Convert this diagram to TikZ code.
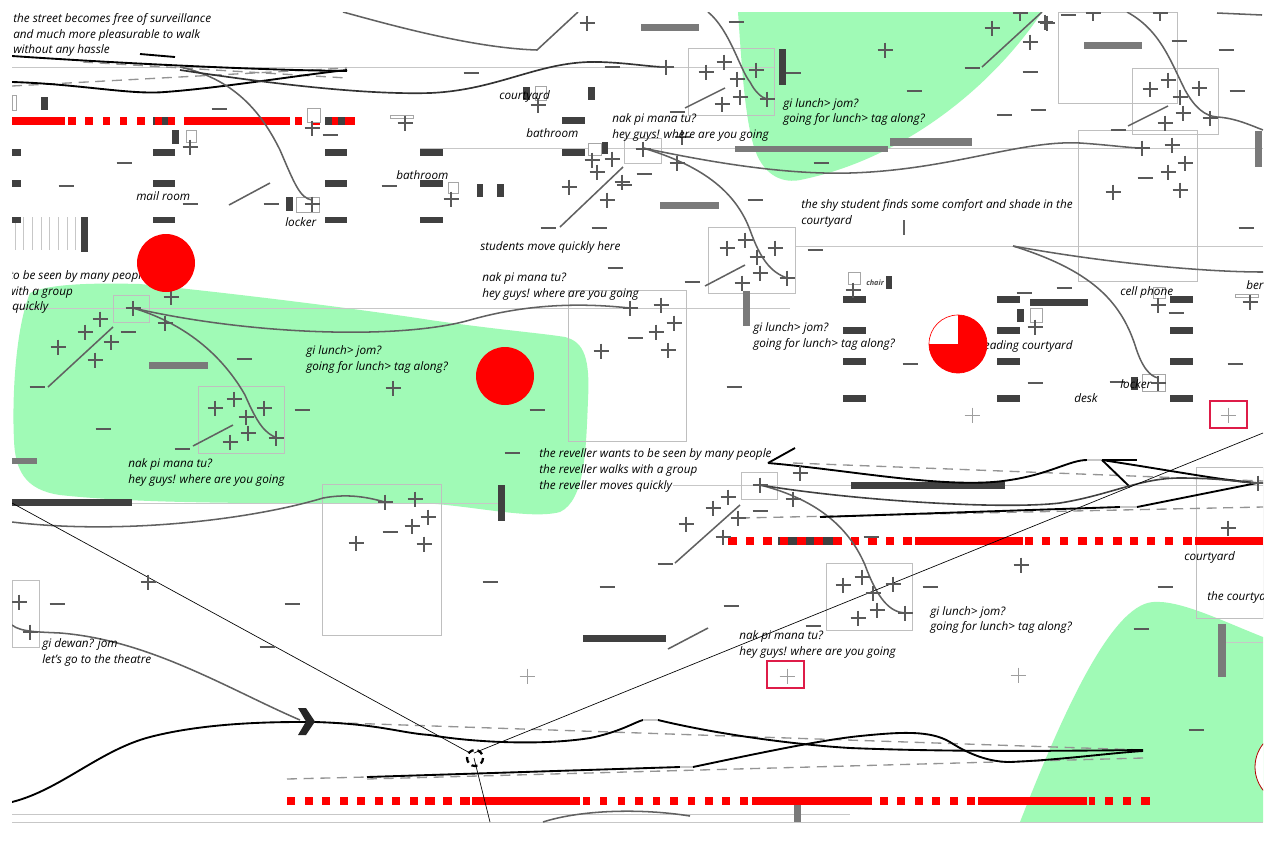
\documentclass[tikz,border=0pt]{standalone}
\usepackage{fontspec}
\setmainfont{Open Sans}
\definecolor{grn}{RGB}{160,250,182}
\definecolor{crim}{RGB}{222,28,72}
\begin{document}
\begin{tikzpicture}[x=0.75pt,y=-0.75pt,
  lb/.style={font=\fontsize{8.8}{10}\selectfont\itshape, inner sep=0pt, anchor=base west, text=black},
  crs/.style={draw=black!65, line width=1pt},
  lcrs/.style={draw=black!38, line width=0.75pt},
  pth/.style={draw=black!62, line width=1.15pt},
  blk/.style={draw=black, line width=1.4pt},
  gdash/.style={draw=black!42, line width=1pt, dash pattern=on 7.5pt off 5pt},
  hair/.style={draw=black!22, line width=0.5pt},
  gbox/.style={draw=black!25, line width=0.5pt},
  sbox/.style={draw=black!35, fill=white, line width=0.5pt},
  dbar/.style={fill=black!75},
  mbar/.style={fill=black!52},
  pl/.pic={\draw[crs] (-7.5,0) -- (7.5,0) (0,-7.5) -- (0,7.5);},
  lpl/.pic={\draw[lcrs] (-7.5,0) -- (7.5,0) (0,-7.5) -- (0,7.5);},
  mn/.pic={\draw[crs] (-7.5,0) -- (7.5,0);}
]
\useasboundingbox (0,0) rectangle (1275,844);
\fill[white] (0,0) rectangle (1275,844);
\begin{scope}
\clip (12,12) rectangle (1263,822);
% green zones
\fill[grn] (738,12) .. controls (742,70) and (745,120) .. (755,150) .. controls (765,178) and (785,183) .. (800,180) .. controls (900,160) and (990,90) .. (1042,12) -- cycle;
\fill[grn] (30,293) .. controls (50,283) and (100,283) .. (140,284) .. controls (250,295) and (380,312) .. (430,320) .. controls (500,330) and (540,333) .. (565,337) .. controls (585,342) and (590,360) .. (588,400) .. controls (586,450) and (585,500) .. (560,512) .. controls (530,520) and (470,505) .. (420,503) .. controls (300,503) and (150,505) .. (60,495) .. controls (25,490) and (15,470) .. (14,440) .. controls (12,400) and (15,330) .. (30,293) -- cycle;
\fill[grn] (1020,822) .. controls (1060,720) and (1110,605) .. (1153,602) .. controls (1180,600) and (1220,620) .. (1263,637) -- (1263,822) -- cycle;
% hairlines
\draw[hair] (12,67) -- (775,67);
\draw[hair] (420,148) -- (1263,148);
\draw[hair] (795,246) -- (1263,246);
\draw[hair] (12,308) -- (790,308);
\draw[hair] (12,503) -- (500,503);
\draw[hair] (673,485) -- (1263,485);
\draw[hair] (12,814) -- (850,814);
\draw[hair] (12,822) -- (1263,822);
\draw[hair] (1223,642) -- (1263,642);
\foreach \x in {15,23,32,41,49,58,67,75} \draw[hair] (\x,217) -- (\x,250);
% grey frames
\foreach \a/\b/\c/\d in {688/48/774/115, 1058/12/1177/103, 1132/68/1218/134, 1078/130/1197/281, 624/138/661/163, 708/227/795/293, 568/290/686/441, 113/295/149/322, 198/386/284/453, 322/484/441/635, 12/580/39/647, 741/472/777/499, 826/563/912/630, 1196/467/1263/618}
  \draw[gbox] (\a,\b) rectangle (\c,\d);
% dark bars
\foreach \a/\b/\c/\d in {41/97/48/110, 172/130/179/144, 12/149/21/156, 12/180/21/187, 12/217/21/223, 153/149/175/156, 153/180/175/187, 153/217/175/223, 325/149/347/156, 325/180/347/187, 325/217/347/223, 420/149/443/156, 420/180/443/187, 420/217/443/223, 562/117/585/124, 562/149/585/156, 523/87/530/100, 588/87/595/100, 477/184/483/197, 497/184/504/197, 602/142/608/154, 81/217/88/252, 286/197/293/211, 779/49/786/85, 12/499/132/506, 498/485/505/521, 583/635/666/642, 851/482/1005/489, 778/537/833/545, 153/117/175/125, 325/117/347/125, 1030/299/1088/306, 1017/309/1024/322, 886/276/892/289, 1131/377/1138/390}
  \fill[dbar] (\a,\b) rectangle (\c,\d);
\foreach \x in {843,997,1170} \foreach \y in {296,327,358,395} \fill[dbar] (\x,\y) rectangle (\x+23,\y+7);
% medium bars
\foreach \a/\b/\c/\d in {641/24/699/31, 735/146/888/152, 890/138/972/146, 660/202/719/209, 1084/42/1142/49, 1255/131/1262/167, 149/362/208/369, 12/458/37/464, 743/291/750/326, 1218/624/1226/677, 794/800/801/822}
  \fill[mbar] (\a,\b) rectangle (\c,\d);
% red dashed bands
\foreach \a/\b in {12/65, 68/76, 85/93, 103/110, 120/127, 137/145, 155/162, 168/175, 184/290, 295/302, 313/320, 332/338, 345/355}
  \fill[red] (\a,117) rectangle (\b,125);
\foreach \a/\b in {728/737, 746/754, 763/772, 780/788, 797/806, 814/823, 833/842, 851/859, 868/877, 886/894, 903/912, 915/1023, 1025/1033, 1042/1050, 1060/1068, 1078/1087, 1095/1103, 1113/1122, 1130/1138, 1147/1155, 1165/1173, 1183/1192, 1195/1263}
  \fill[red] (\a,537) rectangle (\b,545);
\foreach \a/\b in {287/295, 305/313, 322/330, 340/348, 357/365, 375/383, 392/400, 410/418, 425/435, 443/452, 460/470, 472/580, 583/590, 600/607, 618/625, 635/643, 653/660, 670/678, 688/695, 705/713, 722/730, 740/748, 752/872, 880/888, 897/905, 915/923, 932/940, 950/958, 967/975, 978/1087, 1089/1095, 1105/1113, 1123/1131, 1141/1150}
  \fill[red] (\a,797) rectangle (\b,805);
% small white boxes
\foreach \a/\b/\c/\d in {307/108/320/122, 186/130/196/142, 12/95/16/110, 448/182/458/193, 535/86/546/100, 588/143/601/155, 848/272/860/284, 1030/308/1042/322, 1153/287/1165/298, 1142/374/1165/391, 1235/294/1258/297, 390/115/413/118, 296/197/319/212}
  \draw[sbox] (\a,\b) rectangle (\c,\d);
% top-left street lines
\draw[gdash] (83,62) -- (347,78);
\draw[gdash] (12,86) -- (347,68);
\draw[blk] (12,56) .. controls (100,62) and (250,70) .. (347,71);
\draw[blk] (12,82) .. controls (80,84) and (130,95) .. (165,92) .. controls (220,88) and (300,75) .. (347,70);
\draw[blk] (140,54) -- (175,57);
\draw[pth] (180,67) .. controls (240,80) and (265,120) .. (280,150) .. controls (295,185) and (300,198) .. (312,200);
\draw[draw=black!80, line width=1.25pt] (180,70) .. controls (260,82) and (360,95) .. (430,93) .. controls (500,90) and (540,60) .. (600,62) .. controls (630,63) and (650,67) .. (666,67);
\draw[pth] (343,12) .. controls (380,22) and (470,48) .. (537,50) -- (578,12);
\draw[pth] (708,12) .. controls (730,30) and (740,70) .. (750,82) .. controls (755,92) and (762,98) .. (767,99);
\draw[pth] (1127,12) .. controls (1160,30) and (1170,60) .. (1185,90) .. controls (1195,108) and (1205,116) .. (1217,117) .. controls (1235,118) and (1250,125) .. (1263,130);
\draw[pth] (1217,13) -- (1262,15);
\draw[pth] (643,148) .. controls (700,160) and (780,175) .. (850,173) .. controls (950,170) and (1020,140) .. (1080,143) .. controls (1110,145) and (1130,148) .. (1142,148);
\draw[pth] (643,148) .. controls (700,165) and (735,190) .. (750,230) .. controls (760,258) and (770,272) .. (787,278);
\draw[pth] (1013,246) .. controls (1100,262) and (1200,272) .. (1263,272);
\draw[pth] (1013,246) .. controls (1090,270) and (1120,300) .. (1135,345) .. controls (1142,368) and (1150,376) .. (1158,378);
\draw[pth] (133,308) .. controls (250,335) and (400,340) .. (470,320) .. controls (540,300) and (600,305) .. (630,308);
\draw[pth] (133,308) .. controls (190,325) and (225,360) .. (245,395) .. controls (258,425) and (265,433) .. (277,438);
\draw[pth] (12,522) .. controls (120,535) and (250,520) .. (323,498) .. controls (350,493) and (370,498) .. (385,502);
\draw[pth] (12,625) .. controls (20,632) and (40,632) .. (60,633) .. controls (150,640) and (230,690) .. (300,720);
\draw[pth] (543,822) .. controls (580,810) and (640,808) .. (690,816);
\draw[pth] (760,485) .. controls (820,500) and (850,530) .. (865,565) .. controls (878,600) and (890,612) .. (905,613);
% diagonal grey strokes
\foreach \a/\b/\c/\d in {229/205/270/183, 685/108/725/88, 560/227/623/167, 705/286/745/265, 982/67/1042/12, 1128/126/1168/106, 48/387/113/327, 193/446/233/425, 675/563/740/505, 668/649/708/628}
  \draw[pth] (\a,\b) -- (\c,\d);
\draw[pth] (904,220) -- (904,235);
% middle-right street lines
\draw[gdash] (793,463) -- (1263,481);
\draw[gdash] (740,518) -- (1263,507);
\draw[blk] (768,463) -- (795,448);
\draw[blk] (768,463) .. controls (850,470) and (950,490) .. (1010,480) .. controls (1050,474) and (1070,460) .. (1087,460);
\draw[hair, line width=1pt] (1087,460) -- (1102,460);
\draw[blk] (1102,460) -- (1137,460);
\draw[blk] (1102,460) -- (1130,487);
\draw[blk] (1102,460) .. controls (1180,472) and (1220,480) .. (1257,483);
\draw[draw=black!75, line width=1.2pt] (760,485) .. controls (850,500) and (1000,510) .. (1060,503) .. controls (1110,495) and (1140,478) .. (1180,478) .. controls (1220,478) and (1240,482) .. (1257,483);
\draw[blk] (820,517) -- (1120,507);
\draw[hair, line width=1pt] (1120,507) -- (1137,507);
\draw[blk] (1137,507) -- (1257,483);
% bottom street lines
\draw[gdash] (315,722) -- (1143,750);
\draw[gdash] (287,779) -- (367,777);
\draw[gdash] (367,779) -- (1143,758);
\draw[blk] (12,802) .. controls (60,790) and (100,750) .. (150,737) .. controls (200,724) and (260,722) .. (300,722) -- (315,722) .. controls (380,724) and (400,733) .. (430,735) .. controls (470,742) and (540,746) .. (590,738) .. controls (620,732) and (635,722) .. (643,720);
\draw[hair, line width=1pt] (643,720) -- (658,720);
\draw[blk] (658,720) .. controls (720,735) and (800,745) .. (850,748) .. controls (950,752) and (1050,751) .. (1143,750);
\draw[blk] (367,777) -- (680,767);
\draw[hair, line width=1pt] (680,767) -- (693,767);
\draw[blk] (693,767) .. controls (750,755) and (820,740) .. (860,736) .. controls (900,732) and (930,730) .. (950,742) .. controls (970,755) and (990,762) .. (1010,762) .. controls (1060,760) and (1110,753) .. (1143,751);
% thin sight lines
\draw[black, line width=0.5pt] (12,503) -- (470,753);
\draw[black, line width=0.5pt] (474,758) -- (490,822);
\draw[black, line width=0.5pt] (474,753) -- (1263,433);
% markers
\draw[black, line width=1.7pt, dash pattern=on 4.5pt off 3pt] (475,758) circle (8);
\fill[black!85] (298,708) -- (306,708) -- (315,721.5) -- (306,735) -- (298,735) -- (306,721.5) -- cycle;
% crosses
\foreach \x/\y in {190/147, 312/204, 312/128, 405/123, 538/105, 587/23, 666/67, 706/72, 724/62, 756/70, 737/79, 740/97, 722/104, 767/99, 592/160, 612/159, 597/172, 569/187, 622/182, 607/200, 643/149, 677/163, 682/137, 451/199, 885/50, 992/28, 1020/13, 1047/23, 1030/42, 1093/13, 1160/13, 1045/22, 1150/89, 1168/80, 1199/88, 1180/97, 1183/113, 1165/123, 1210/118, 1142/148, 1172/145, 1185/163, 1168/172, 1180/190, 1113/192, 727/248, 745/240, 775/248, 757/257, 760/273, 742/283, 787/278, 630/308, 661/305, 674/323, 656/332, 668/350, 601/351, 171/297, 133/308, 100/319, 85/332, 111/342, 58/347, 165/323, 95/360, 215/408, 234/399, 264/408, 246/417, 248/433, 230/442, 276/438, 393/388, 385/502, 415/499, 412/526, 428/517, 356/543, 424/544, 19/602, 30/632, 148/582, 800/473, 760/485, 728/497, 713/508, 686/524, 738/518, 723/537, 793/499, 843/585, 862/577, 893/584, 873/593, 877/610, 858/618, 905/613, 1021/565, 853/290, 1035/327, 1158/383, 1250/302, 1158/305, 1258/483, 1228/528}
  \pic at (\x,\y) {pl};
\foreach \x/\y in {527/676, 787/676, 972/415, 1018/675, 1228/415}
  \pic at (\x,\y) {lpl};
% short strokes
\foreach \x/\y in {219/109, 330/135, 124/163, 66/186, 190/204, 271/204, 389/186, 471/73, 612/67, 736/22, 793/73, 644/174, 755/200, 821/163, 548/228, 599/228, 624/185, 677/112, 615/268, 815/250, 914/91, 972/68, 1030/72, 1038/110, 1004/115, 1068/15, 1118/130, 1145/178, 1179/41, 1226/50, 1237/91, 1246/228, 1064/288, 692/282, 37/387, 128/332, 244/359, 302/410, 103/429, 182/449, 390/532, 537/410, 512/453, 635/338, 734/387, 760/511, 910/364, 1024/293, 1035/383, 1176/313, 1235/364, 871/537, 57/604, 292/604, 267/647, 490/582, 607/587, 665/564, 731/606, 813/626, 930/587, 1165/587, 1141/629, 1196/730, 1117/382}
  \pic at (\x,\y) {mn};
% red framed squares
\draw[crim, line width=1.5pt] (767,661) rectangle (804,688);
\draw[crim, line width=1.5pt] (1210,401) rectangle (1247,428);
% texts
\node[lb] (t1a) at (13,22) {the street becomes free of surveillance};
\node[lb] (t1b) at (13,38) {and much more pleasurable to walk};
\node[lb] (t1c) at (13,53) {without any hassle};
\node[lb] (c1) at (499,99) {courtyard};
\node[lb] (b1) at (526,137) {bathroom};
\node[lb] (n1a) at (612,122) {nak pi mana tu?};
\node[lb] (n1b) at (612,138) {hey guys! where are you going};
\node[lb] (g1a) at (783,107) {gi lunch> jom?};
\node[lb] (g1b) at (783,122) {going for lunch> tag along?};
\node[lb] (b2) at (396,179) {bathroom};
\node[lb] (mr) at (136,200) {mail room};
\node[lb] (lk1) at (285,226) {locker};
\node[lb] (s1a) at (801,208) {the shy student finds some comfort and shade in the};
\node[lb] (s1b) at (801,224) {courtyard};
\node[lb] (sq) at (480,250) {students move quickly here};
\node[lb] (n2a) at (482,281) {nak pi mana tu?};
\node[lb] (n2b) at (482,297) {hey guys! where are you going};
\node[lb] (r0a) at (9,279) {to be seen by many people};
\node[lb] (r0b) at (7,295) {with a group};
\node[lb] (r0c) at (12,310) {quickly};
\node[lb] (g2a) at (306,354) {gi lunch> jom?};
\node[lb] (g2b) at (306,370) {going for lunch> tag along?};
\node[lb] (n3a) at (128,467) {nak pi mana tu?};
\node[lb] (n3b) at (128,483) {hey guys! where are you going};
\node[lb] (g3a) at (753,331) {gi lunch> jom?};
\node[lb] (g3b) at (753,347) {going for lunch> tag along?};
\node[lb, font=\fontsize{5.5}{6}\selectfont\bfseries\itshape, text=black!70] (ch) at (866,285) {chair};
\node[lb] (rc) at (979,349) {reading courtyard};
\node[lb] (cp) at (1120,295) {cell phone};
\node[lb] (be) at (1246,289) {ber};
\node[lb] (lk2) at (1120,388) {locker};
\node[lb] (dk) at (1074,402) {desk};
\node[lb] (rv1) at (539,457) {the reveller wants to be seen by many people};
\node[lb] (rv2) at (539,473) {the reveller walks with a group};
\node[lb] (rv3) at (539,489) {the reveller moves quickly};
\node[lb] (c2) at (1184,560) {courtyard};
\node[lb] (c3) at (1207,600) {the courtyard};
\node[lb] (g4a) at (930,615) {gi lunch> jom?};
\node[lb] (g4b) at (930,630) {going for lunch> tag along?};
\node[lb] (n4a) at (739,639) {nak pi mana tu?};
\node[lb] (n4b) at (739,655) {hey guys! where are you going};
\node[lb] (gd1) at (42,647) {gi dewan? jom};
\node[lb] (gd2) at (42,663) {let’s go to the theatre};
% red discs
\fill[red] (166,263) circle (29);
\fill[red] (505,376) circle (29);
\draw[red, line width=0.5pt, fill=white] (958,344) circle (29);
\fill[red] (958,344) -- (958,315) arc[start angle=-90, end angle=180, radius=29] -- cycle;
\draw[red!70!black, line width=0.6pt, fill=white] (1292,767) circle (37);
\end{scope}
\end{tikzpicture}
\end{document}
